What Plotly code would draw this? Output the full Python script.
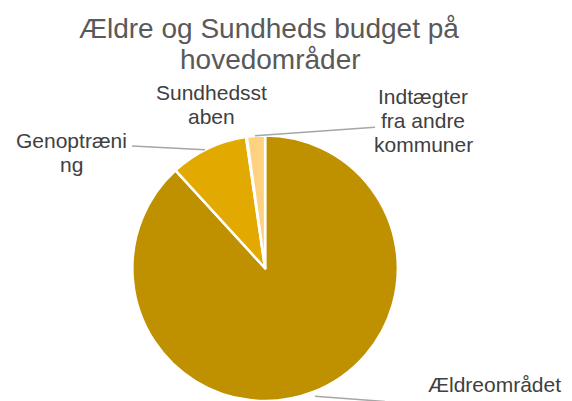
import plotly.graph_objects as go

W, H = 572, 401

# Data (share of budget, %)
categories = ["Ældreområdet", "Genoptræning", "Sundhedsstaben", "Indtægter fra andre kommuner"]
values = [88.2, 9.5, 0.1, 2.2]
colors = ["#BF9000", "#E2AA00", "#FFE7A8", "#FFD27F"]

# label text lines as shown on chart
label_lines = {
    "Ældreområdet": ["Ældreområdet"],
    "Genoptræning": ["Genoptræni", "ng"],
    "Sundhedsstaben": ["Sundhedsst", "aben"],
    "Indtægter fra andre kommuner": ["Indtægter", "fra andre", "kommuner"],
}
title_lines = ["Ældre og Sundheds budget på", "hovedområder"]

FONT = "Liberation Sans, Arial, sans-serif"


def px(x):
    return x / W


def py(y):
    return 1 - y / H


fig = go.Figure(
    go.Pie(
        labels=categories,
        values=values,
        sort=False,
        direction="clockwise",
        rotation=0,
        marker=dict(colors=colors, line=dict(color="white", width=2.5)),
        textinfo="none",
        hoverinfo="label+percent",
        showlegend=False,
        domain=dict(x=[0.2, 0.727], y=[0, 0.662]),
    )
)

annotations = []
tfs = 28
for line, (cx, base) in zip(title_lines, [(269, 38.5), (270, 69.6)]):
    annotations.append(dict(
        text=line, x=px(cx), y=py(base - 0.35 * tfs), xref="paper", yref="paper",
        xanchor="center", yanchor="middle", showarrow=False,
        font=dict(family=FONT, size=tfs, color="#595959"),
    ))

lfs = 21
label_pos = {
    "Ældreområdet": (494, 391.7),
    "Genoptræning": (71, 147.5),
    "Sundhedsstaben": (211, 100),
    "Indtægter fra andre kommuner": (423, 104),
}
spacing = 24
for cat in categories:
    cx, base = label_pos[cat]
    for i, line in enumerate(label_lines[cat]):
        b = base + i * spacing
        annotations.append(dict(
            text=line, x=px(cx), y=py(b - 0.35 * lfs), xref="paper", yref="paper",
            xanchor="center", yanchor="middle", showarrow=False,
            font=dict(family=FONT, size=lfs, color="#404040"),
        ))

leaders = [
    ((132, 146), (205, 149.7)),
    ((255, 135.7), (375, 127.3)),
    ((315, 396.3), (385, 401.5)),
]
shapes = []
for (x0, y0), (x1, y1) in leaders:
    shapes.append(dict(type="line", xref="paper", yref="paper",
                       x0=px(x0), y0=py(y0), x1=px(x1), y1=py(y1),
                       line=dict(color="#A6A6A6", width=1.5)))

fig.update_layout(
    width=W, height=H,
    margin=dict(l=0, r=0, t=0, b=0),
    paper_bgcolor="white",
    plot_bgcolor="white",
    annotations=annotations,
    shapes=shapes,
)

fig.write_html(
    "out.html",
    config={"displayModeBar": False},
    post_script="document.body.style.margin='0';document.body.style.overflow='hidden';",
)
